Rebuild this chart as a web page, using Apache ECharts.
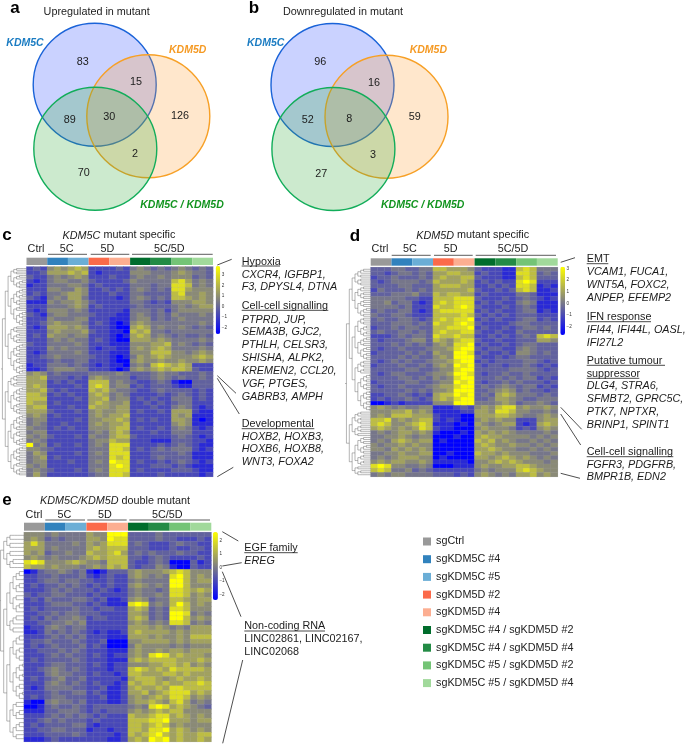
<!DOCTYPE html>
<html><head><meta charset="utf-8">
<style>html,body{margin:0;padding:0;background:#fff}#c{width:685px;height:744px}</style>
<script src="https://cdn.jsdelivr.net/npm/echarts@6/dist/echarts.min.js"></script>
</head><body><div id="c"></div>
<script>
const FONT='"Liberation Sans",Arial,sans-serif';
const sampleNames=['sgCtrl','sgKDM5C #4','sgKDM5C #5','sgKDM5D #2','sgKDM5D #4','sgKDM5C #4 / sgKDM5D #2','sgKDM5C #4 / sgKDM5D #4','sgKDM5C #5 / sgKDM5D #2','sgKDM5C #5 / sgKDM5D #4'];
const sampleColors=['#999999','#3182bd','#6baed6','#fb6a4a','#fcae91','#006d2c','#238b45','#74c476','#a1d99b'];
const vennCountsA=[83,15,89,30,126,2,70];
const vennCountsB=[96,16,52,8,59,3,27];
// position of each heat level 0..9 along the colour scale (0 = blue end, 1 = yellow end)
const levelScale=[0,0.16,0.28,0.38,0.46,0.54,0.63,0.74,0.87,1];
// heat levels 0 (blue) .. 9 (yellow); groups: Ctrl 5C#4 5C#5 5D#2 5D#4 and four double mutants
const heatC=[
"232 565 676 222 232 454 343 454 343","223 666 767 212 222 555 444 565 443","322 454 565 222 322 454 454 555 343","212 455 445 322 223 544 444 786 454","122 444 554 232 222 444 344 887 454",
"222 554 465 223 232 454 343 886 555","232 445 665 222 322 443 333 785 565","321 454 664 222 212 454 343 776 565","111 545 565 322 222 443 232 555 665","222 444 565 232 222 343 333 454 566",
"212 555 454 222 221 444 342 455 555","321 455 444 322 211 454 343 544 454","222 544 455 222 111 455 343 454 444","223 565 554 232 101 565 444 444 454","212 666 565 222 100 676 454 454 343",
"222 565 556 322 110 767 443 444 444","232 655 455 222 101 676 454 343 343","222 454 544 232 100 666 565 444 454","322 444 454 222 111 555 667 454 343","222 545 444 212 211 565 676 444 454",
"212 444 454 222 111 555 777 554 565","223 454 444 322 101 465 676 555 676","222 343 344 222 100 565 565 565 565","122 444 343 212 110 454 787 676 222","112 455 544 222 101 565 676 776 322",
"565 343 333 444 454 333 454 433 343","667 333 232 565 444 233 454 343 343","666 232 322 777 454 322 343 100 333","676 222 232 787 455 232 333 211 333","667 323 222 767 544 322 343 333 232",
"776 232 322 676 454 222 232 343 232","777 222 232 667 455 232 322 444 232","766 232 222 676 556 223 232 344 222","677 222 322 766 566 222 322 454 212","666 322 232 565 566 232 232 666 211",
"565 232 222 565 667 222 222 656 111","455 222 232 556 676 232 322 665 101","454 223 222 565 667 222 222 565 111","544 232 322 555 677 232 232 454 212","455 222 222 454 676 222 322 444 222",
"545 322 232 544 677 322 222 343 212","454 222 222 455 766 222 111 333 221","945 232 232 454 888 222 232 343 211","554 322 222 444 887 232 343 444 212","465 222 232 454 888 222 333 343 111",
"456 232 222 444 878 222 343 333 111","455 222 322 454 988 232 232 343 212","545 222 222 444 898 222 333 232 111","454 322 232 454 888 232 222 333 211","464 222 222 344 887 222 232 222 212"];
const heatD=[
"333 443 344 776 665 322 211 787 444","332 344 343 667 766 232 211 887 343","233 433 343 676 677 322 211 787 333","323 444 434 766 676 232 322 898 222","333 344 333 677 766 223 232 887 121",
"243 334 343 666 667 322 323 787 112","333 444 533 767 766 232 222 443 111","444 443 322 777 888 322 232 343 212","445 344 212 787 888 232 322 454 111","444 434 222 877 898 322 232 343 111",
"343 344 212 788 888 232 322 344 121","433 443 222 777 787 323 232 333 222","343 344 323 787 889 232 322 344 232","333 444 343 877 898 322 223 443 333","233 434 433 778 889 232 232 344 343",
"343 344 343 787 788 322 322 433 333","222 343 443 877 877 223 232 343 787","323 334 553 765 788 322 322 333 665","333 434 343 565 889 232 232 344 333","323 343 334 556 899 323 322 454 333",
"233 334 343 655 998 232 232 554 343","333 343 433 565 999 322 323 443 333","323 434 334 556 899 232 333 344 323","233 343 343 565 989 323 323 343 232","333 334 433 455 899 333 334 444 323",
"323 443 334 556 998 323 343 343 333","333 344 343 545 899 333 434 344 232","233 334 433 455 989 323 343 433 323","323 343 334 566 899 343 454 344 232","333 334 343 556 999 334 565 343 323",
"223 343 232 677 989 343 676 444 343","232 334 323 676 899 334 665 433 444","001 212 222 555 999 444 565 344 543","565 454 455 111 232 565 788 565 565","555 667 565 111 122 665 887 554 454",
"565 777 666 211 100 666 776 544 565","778 565 677 212 100 565 655 222 566","787 556 787 111 010 654 566 212 676","676 565 687 211 000 565 554 232 565","454 566 565 100 010 656 565 444 454",
"445 565 455 000 100 676 655 554 545","454 676 566 010 000 767 565 445 454","545 565 655 000 000 676 556 554 545","554 656 565 000 000 667 655 445 454","445 565 566 001 000 766 565 554 445",
"454 566 655 010 000 665 676 565 454","565 665 565 111 110 556 767 655 545","898 554 454 000 111 565 566 776 555","787 445 343 222 222 454 555 787 655","454 554 444 333 232 565 454 667 565"];
const heatE=[
"555 454 444 655 999 333 343 333 333","565 343 444 665 988 333 343 322 232","686 444 454 656 888 343 222 343 322","666 454 444 676 777 333 222 322 332","656 344 544 766 786 343 433 343 322",
"565 454 445 676 777 332 343 222 232","898 555 676 554 777 322 343 000 312","766 565 554 565 767 323 354 100 322","013 445 434 101 333 565 556 787 555","223 343 334 212 322 565 454 897 565",
"223 443 443 322 322 454 444 997 566","232 334 343 232 322 565 454 997 555","222 343 433 323 212 454 434 887 676","323 344 333 232 222 454 454 887 565","232 433 344 323 112 565 344 776 566",
"222 344 433 232 111 898 454 797 565","232 333 343 323 322 676 343 887 555","223 343 443 332 222 665 343 998 454","232 434 454 233 222 676 343 997 565","223 344 545 222 222 565 454 887 454",
"122 454 344 222 222 666 565 454 666","112 434 343 212 112 676 666 565 666","222 343 434 222 111 666 565 565 777","233 433 343 223 000 556 666 565 666","232 343 334 232 000 465 555 454 555",
"223 334 343 222 111 565 565 665 666","222 343 433 232 122 565 898 676 665","232 333 343 222 111 676 777 766 676","222 344 333 232 122 555 667 767 565","223 454 343 222 122 787 676 877 776",
"222 454 433 232 212 776 667 767 666","232 345 334 222 221 677 765 676 676","222 454 343 232 212 767 767 667 787","212 444 433 223 112 676 676 887 777","222 343 344 232 112 667 567 888 676",
"232 344 333 223 112 565 676 887 565","100 454 434 222 112 566 765 786 454","001 343 343 233 333 454 898 676 543","111 334 443 232 333 565 676 775 555","222 343 434 323 222 766 788 676 565",
"223 434 333 232 222 777 889 666 566","232 333 344 212 222 776 787 565 555","223 344 333 122 122 776 889 676 565","222 333 343 222 212 767 897 676 677","111 232 222 222 112 676 989 676 676"];
// dendrogram shapes: nested merges, integers are small leaf clusters
const treeC=[[[[4,[3,5]],[[6,4],[3,[5,4]]]],[[4,6],[[5,3],[4,[3,3]]]]],[[[4,3],[[5,4],[3,4]]],[[[6,3],[4,5]],[[5,4],[3,5]]]]];
const treeD=[[[[5,4],[[3,4],[4,5]]],[[[4,6],[5,[3,4]]],[[4,3],[[5,4],[6,[3,4]]]]]],[[[3,4],[4,2]],[[[4,5],[3,3]],[2,3]]]];
const treeE=[[[2,2],[2,3]],[[[[3,3],[2,3]],[3,2]],[[[3,4],[[3,3],[2,3]]],[[2,3],[3,2]]]]];

const W=685,H=744;
const panels=[
 {rows:heatC,tree:treeC,x0:26.5,x1:213,y0:266.7,y1:476.7,ay0:257.7,ay1:265,bx:215.7,bw:4.5,by0:266,by1:334,min:-2.63,max:3.86,t0:275,t1:327.3,tmin:-2,tmax:3,dx:1,dw:25.5},
 {rows:heatD,tree:treeD,x0:370.7,x1:557.7,y0:267.3,y1:476.7,ay0:258.3,ay1:265.7,bx:560.3,bw:4.7,by0:266.7,by1:335,min:-2.71,max:3.14,t0:268.3,t1:326.7,tmin:-2,tmax:3,dx:345,dw:25.7},
 {rows:heatE,tree:treeE,x0:24,x1:211.3,y0:532.3,y1:741.7,ay0:522.7,ay1:530.7,bx:212.9,bw:5,by0:532,by1:600,min:-2.42,max:2.65,t0:540.7,t1:594.3,tmin:-2,tmax:2,dx:-1,dw:25}
];
const grids=[],xAxis=[],yAxis=[],series=[],visualMap=[];
const hide={show:false};
function addGrid(l,t,r,b,xa,ya){grids.push({left:l,top:t,width:r-l,height:b-t,containLabel:false});const i=grids.length-1;
 xAxis.push(Object.assign({gridIndex:i},xa));yAxis.push(Object.assign({gridIndex:i},ya));return i;}
function expand(n){ if(typeof n==='number'){ if(n<=1)return {name:'',children:[]};
   const a=Math.ceil(n/2);return {name:'',children:[expand(a),expand(n-a)]};}
 return {name:'',children:n.map(expand)};}
function depth(n){return n.children.length?1+Math.max(...n.children.map(depth)):0;}
function pad(n,d){ if(!n.children.length){ if(d>0)n.children=[pad({name:'',children:[]},d-1)];return n;}
 n.children.forEach(c=>pad(c,d-1));return n;}

// full-page pixel grid for the Venn diagrams
const vg=addGrid(0,0,W,H,{type:'value',min:0,max:W,show:false},{type:'value',min:0,max:H,inverse:true,show:false});
const vennSets=[
 {c:[[94.7,84.7],[148.3,116.3],[95.3,148.7]],n:vennCountsA,p:[[82.7,61.7],[136,82.3],[69.7,119.7],[109.3,117],[180,116],[135,153.7],[83.7,173.3]]},
 {c:[[332.5,85],[386.5,116.7],[333.4,149]],n:vennCountsB,p:[[320.3,62],[374,83.3],[307.7,120.3],[349.3,119.3],[414.7,117],[373,154.7],[321.3,174]]}];
const vFill=['rgba(60,90,255,0.27)','rgba(255,160,50,0.25)','rgba(50,170,60,0.25)'];
const vLine=['#1a63d8','#f7a026','#12ad5a'];
vennSets.forEach(v=>{
 v.c.forEach((c,i)=>series.push({type:'scatter',xAxisIndex:vg,yAxisIndex:vg,data:[c],symbol:'circle',symbolSize:123,silent:true,
   itemStyle:{color:vFill[i],borderColor:vLine[i],borderWidth:1.4,opacity:1},z:2+i}));
 series.push({type:'scatter',xAxisIndex:vg,yAxisIndex:vg,symbolSize:0,silent:true,z:8,itemStyle:{opacity:1},
   data:v.p.map((p,i)=>({value:[p[0],p[1]],label:{show:true,formatter:String(v.n[i]),position:'inside',fontFamily:FONT,fontSize:10.8,color:'#1c1c1c',opacity:1}}))});
});
// legend entries
sampleNames.forEach((n,i)=>series.push({type:'scatter',name:n,xAxisIndex:vg,yAxisIndex:vg,data:[],itemStyle:{color:sampleColors[i],opacity:1}}));

panels.forEach((p,pi)=>{
 const cols=Array.from({length:27},(_,i)=>'c'+i), rowsN=p.rows.map((_,i)=>'r'+i);
 const g=addGrid(p.x0,p.y0,p.x1,p.y1,{type:'category',data:cols,show:false},{type:'category',data:rowsN,inverse:true,show:false});
 const data=[];
 p.rows.forEach((r,ri)=>{r.replace(/ /g,'').split('').forEach((d,ci)=>{data.push([ci,ri,+(p.min+(p.max-p.min)*levelScale[+d]).toFixed(2)]);});});
 series.push({type:'heatmap',xAxisIndex:g,yAxisIndex:g,data,silent:true,progressive:0,itemStyle:{borderColor:'rgba(165,165,175,0.35)',borderWidth:0.4}});
 visualMap.push({type:'continuous',seriesIndex:series.length-1,min:p.min,max:p.max,left:p.bx,top:p.by0,itemWidth:p.bw,itemHeight:p.by1-p.by0,padding:0,
   calculable:false,hoverLink:false,text:null,inRange:{color:['#0000ff','#808080','#ffff00']},borderWidth:0});
 // annotation bar
 const a=addGrid(p.x0,p.ay0,p.x1,p.ay1,{type:'category',data:sampleNames,show:false},{type:'value',min:0,max:1,show:false});
 series.push({type:'bar',xAxisIndex:a,yAxisIndex:a,barWidth:'100%',silent:true,data:sampleColors.map(c=>({value:1,itemStyle:{color:c}}))});
 // colour bar labels
 addGrid(p.bx,p.t0,p.bx+p.bw,p.t1,{type:'category',data:[''],show:false},
  {type:'value',min:p.tmin,max:p.tmax,interval:1,position:'right',splitLine:hide,axisLine:hide,axisTick:hide,
   axisLabel:{fontSize:4.6,margin:1.5,color:'#333',fontFamily:FONT,formatter:v=>String(v).replace('-','\u2212')}});
 // dendrogram
 const root=expand(p.tree); pad(root,depth(root));
 series.push({type:'tree',data:[root],layout:'orthogonal',orient:'LR',left:p.dx,top:p.y0+1,width:p.dw,height:p.y1-p.y0-2,symbol:'none',symbolSize:0,
   edgeShape:'polyline',edgeForkPosition:0.5,initialTreeDepth:-1,expandAndCollapse:false,roam:false,silent:true,
   lineStyle:{color:'#6a6a6a',width:0.5,curveness:0},label:{show:false},leaves:{label:{show:false}},emphasis:{disabled:true}});
});

const G=[];
function T(x,y,s,o){o=o||{};const st=Object.assign({text:s,fontFamily:FONT,fontSize:10.8,fill:'#1c1c1c',align:o.al||'left',verticalAlign:'middle',textAlign:o.al||'left',textVerticalAlign:'middle'},o.st||{});
 G.push({type:'text',x,y,style:st,silent:true,z:50});}
function L(x1,y1,x2,y2,c,w){G.push({type:'line',shape:{x1,y1,x2,y2},style:{stroke:c||'#1c1c1c',lineWidth:w||0.8},silent:true,z:50});}
function C(x,y,s,st){T(x,y,s,{al:'center',st});}
const big={fontSize:17,fontWeight:'bold',fill:'#000'};
C(15,8,'a',big);C(254,8,'b',big);C(7,235.5,'c',big);C(355,236,'d',big);C(7,500,'e',big);
C(96.7,12,'Upregulated in mutant');C(343,12,'Downregulated in mutant');
const vl=(c)=>({fontSize:10.5,fontWeight:'bold',fontStyle:'italic',fill:c});
[[25,42.7,'KDM5C','#1b7cc2'],[187.7,50,'KDM5D','#f59a24'],[182,204.7,'KDM5C / KDM5D','#12941f'],
 [265.7,42.7,'KDM5C','#1b7cc2'],[428.3,49.7,'KDM5D','#f59a24'],[422.7,204.7,'KDM5C / KDM5D','#12941f']].forEach(a=>C(a[0],a[1],a[2],vl(a[3])));
const rich={i:{fontStyle:'italic',fontFamily:FONT,fontSize:10.8,fill:'#1c1c1c'},n:{fontFamily:FONT,fontSize:10.8,fill:'#1c1c1c'}};
C(119,235.5,'{i|KDM5C}{n| mutant specific}',{rich});
C(472.7,235.5,'{i|KDM5D}{n| mutant specific}',{rich});
C(115,500.7,'{i|KDM5C/KDM5D}{n| double mutant}',{rich});
// group labels and brackets
[[36,248.7,'Ctrl'],[66.7,248.7,'5C'],[107.3,248.7,'5D'],[169.3,248.7,'5C/5D'],
 [380,249,'Ctrl'],[410,249,'5C'],[450.7,249,'5D'],[513,249,'5C/5D'],
 [34,515,'Ctrl'],[64.3,515,'5C'],[105,515,'5D'],[167.3,515,'5C/5D']].forEach(a=>C(a[0],a[1],a[2]));
[[48,87,254.3],[90.7,129.3,254.3],[132,212.7,254.3],[391.7,430.7,255.3],[434,472.7,255.3],[475.7,556,255.3],[45.3,85,520],[87.3,126.7,520],[129.3,210,520]].forEach(a=>L(a[0],a[2],a[1],a[2],'#333',0.8));
// annotation text: [x, y, text, italic]
const ital={fontStyle:'italic'};
const notes=[
 [241.7,261.7,'Hypoxia'],[241.7,275,'CXCR4, IGFBP1,',1],[241.7,287.3,'F3, DPYSL4, DTNA',1],[241.7,306,'Cell-cell signalling'],
 [241.7,320,'PTPRD, JUP,',1],[241.7,332.3,'SEMA3B, GJC2,',1],[241.7,345,'PTHLH, CELSR3,',1],[241.7,358.3,'SHISHA, ALPK2,',1],[241.7,371,'KREMEN2, CCL20,',1],[241.7,384,'VGF, PTGES,',1],[241.7,396.7,'GABRB3, AMPH',1],
 [241.7,424,'Developmental'],[241.7,436.7,'HOXB2, HOXB3,',1],[241.7,449.3,'HOXB6, HOXB8,',1],[241.7,462.3,'WNT3, FOXA2',1],
 [586.7,259.3,'EMT'],[586.7,272,'VCAM1, FUCA1,',1],[586.7,285,'WNT5A, FOXC2,',1],[586.7,298.3,'ANPEP, EFEMP2',1],
 [586.7,317,'IFN response'],[586.7,330,'IFI44, IFI44L, OASL,',1],[586.7,342.7,'IFI27L2',1],
 [586.7,360.7,'Putative tumour'],[586.7,373.7,'suppressor'],[586.7,386,'DLG4, STRA6,',1],[586.7,399,'SFMBT2, GPRC5C,',1],[586.7,412,'PTK7, NPTXR,',1],[586.7,425,'BRINP1, SPINT1',1],
 [586.7,452.3,'Cell-cell signalling'],[586.7,465,'FGFR3, PDGFRB,',1],[586.7,477.3,'BMPR1B, EDN2',1],
 [244.3,548,'EGF family'],[244.3,560.7,'EREG',1],[244.3,626.3,'Non-coding RNA'],[244.3,639.3,'LINC02861, LINC02167,'],[244.3,652,'LINC02068']];
notes.forEach(n=>T(n[0],n[1],n[2],{st:n[3]?ital:{}}));
[[241.7,280,266],[241.7,328.3,310.3],[241.7,314.3,428.7],[586.7,608.3,263.7],[586.7,651,321.7],[586.7,665,365.3],[586.7,639.3,378.3],[586.7,673.3,456.7],[244.3,297.7,552.7],[244.3,325,631]]
 .forEach(a=>L(a[0],a[2],a[1],a[2],'#1c1c1c',0.8));
[[217.3,265,231.7,259.3],[217.3,375.7,236,393.3],[217.3,378.3,239.3,414],[217.3,476.7,233.3,467.3],
 [560.7,262.3,575,257.7],[560.7,407.3,581.7,429.3],[560.7,414,580.7,445],[560.7,473.3,580,478.3],
 [222.3,531.7,238.3,541],[222.3,566,241.7,562.7],[222.3,571.7,241,616.7],[242.7,660,222.7,743.3]].forEach(a=>L(a[0],a[1],a[2],a[3],'#222',0.8));

const chart=echarts.init(document.getElementById('c'),null,{renderer:'canvas',width:W,height:H});
chart.setOption({animation:false,backgroundColor:'#fff',textStyle:{fontFamily:FONT},tooltip:{show:false},
 grid:grids,xAxis,yAxis,series,visualMap,graphic:{elements:G},
 legend:{data:sampleNames,orient:'vertical',left:423,top:536,padding:0,itemWidth:8,itemHeight:8,itemGap:6.7,icon:'rect',selectedMode:false,
  textStyle:{fontFamily:FONT,fontSize:10.8,color:'#222',padding:[0,0,0,0]}}});
</script></body></html>
